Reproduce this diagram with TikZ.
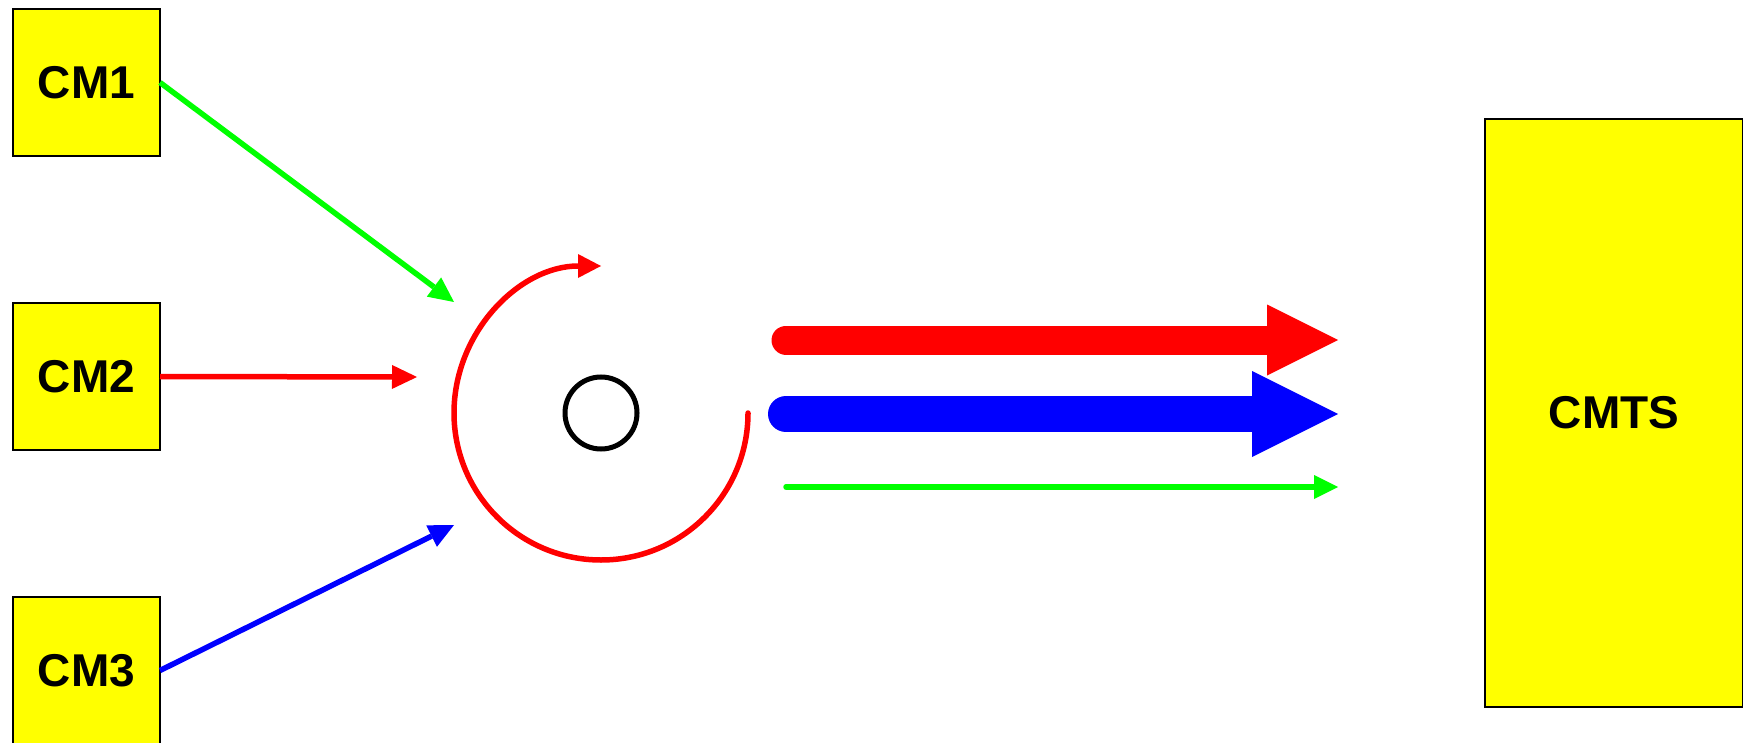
\documentclass[tikz,border=0pt]{standalone}
\usepackage{fontspec}
\setmainfont{Liberation Sans}
\usetikzlibrary{arrows.meta, positioning}
\definecolor{cYel}{HTML}{FFFF00}
\definecolor{cRed}{HTML}{FF0000}
\definecolor{cGrn}{HTML}{00FF00}
\definecolor{cBlu}{HTML}{0000FF}

\begin{document}
\begin{tikzpicture}[
  x=0.5pt, y=-0.5pt,
  box/.style={draw, line width=0.75pt, fill=cYel, outer sep=0pt, inner sep=0pt,
    minimum width=73.5pt, minimum height=73.5pt, font=\fontsize{23}{28}\selectfont\bfseries},
  arr/.style={-{Triangle[length=12.5pt, width=12pt, line width=0pt]}, line width=2.75pt},
  flow/.style={line cap=round}
]
\useasboundingbox (0,0) rectangle (1743,743);
\node[box] (cm1) at (86.5,82.5) {CM1};
\node[box, below=73.5pt of cm1] (cm2) {CM2};
\node[box, below=73.5pt of cm2] (cm3) {CM3};
\node[box, minimum width=129pt, minimum height=294pt] (cmts) at (1614,413) {CMTS};
\node[draw, circle, line width=2.5pt, minimum size=36pt, inner sep=0pt] (hub) at (601,413) {};
% incoming
\coordinate (in1) at (454,302);
\coordinate (in2) at (417,377);
\coordinate (in3) at (454,525);
\draw[arr, cGrn] (cm1.east) -- (in1);
\draw[arr, cRed] (cm2.east) -- (in2);
\draw[arr, cBlu] (cm3.east) -- (in3);
\draw[cRed, line width=2.75pt, line cap=round, -{Triangle[length=11.5pt, width=12pt, line width=0pt]}]
  (hub.center) ++(147,0) arc[start angle=0, end angle=270, radius=147];
% outgoing
\coordinate (o1) at (786,340);
\coordinate (o2) at (786,414);
\coordinate (o3) at (786,487);
\coordinate (e1) at (1338,340);
\coordinate (e2) at (1338,414);
\coordinate (e3) at (1338,487);
\draw[flow, cRed, line width=14.5pt, -{Triangle[length=35.5pt, width=35.5pt, line width=0pt]}] (o1) -- (e1);
\draw[flow, cBlu, line width=18pt, -{Triangle[length=43pt, width=43pt, line width=0pt]}] (o2) -- (e2);
\draw[flow, cGrn, line width=2.75pt, -{Triangle[length=12pt, width=12pt, line width=0pt]}] (o3) -- (e3);
\end{tikzpicture}
\end{document}
